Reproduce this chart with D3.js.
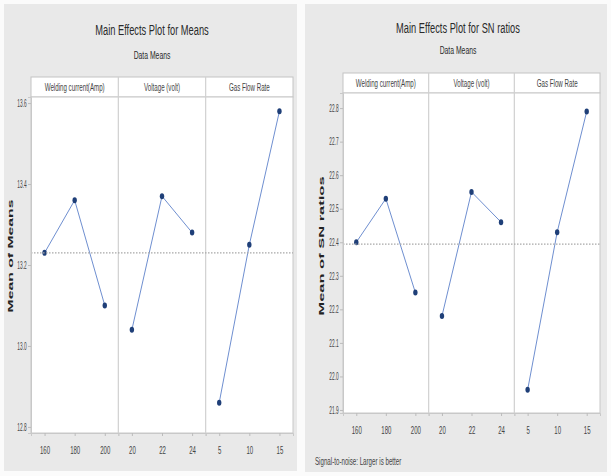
<!DOCTYPE html>
<html>
<head>
<meta charset="utf-8">
<script src="https://cdn.jsdelivr.net/npm/d3@7"></script>
<style>
  body { margin: 0; background: #fff; }
  svg { display: block; font-family: "Liberation Sans", Arial, sans-serif; }
</style>
</head>
<body>
<svg id="chart" width="611" height="476"></svg>
<script>
// factors and their levels
const factors = ["Welding current(Amp)", "Voltage (volt)", "Gas Flow Rate"];
const weldingLevels = ["160", "180", "200"];
const voltageLevels = ["20", "22", "24"];
const gasLevels = ["5", "10", "15"];

// Means
const meansWelding = [13.23, 13.36, 13.10];
const meansVoltage = [13.04, 13.37, 13.28];
const meansGas = [12.86, 13.25, 13.58];
const meansTicks = [12.8, 13.0, 13.2, 13.4, 13.6];

// SN ratios
const snWelding = [22.40, 22.53, 22.25];
const snVoltage = [22.18, 22.55, 22.46];
const snGas = [21.96, 22.43, 22.79];
const snTicks = [21.9, 22.0, 22.1, 22.2, 22.3, 22.4, 22.5, 22.6, 22.7, 22.8];

const svg = d3.select("#chart");
const SX = 0.62; // the picture's text is squeezed sideways

svg.append("rect").attr("width", 611).attr("height", 476).attr("fill", "#fbfbfb");

function squeezedText(g, x, y, str, size, opts = {}) {
  return g.append("text")
    .attr("transform", `translate(${x},${y}) scale(${opts.sx || SX},1)`)
    .attr("text-anchor", opts.anchor || "middle")
    .attr("font-size", size)
    .attr("font-weight", opts.weight || "normal")
    .attr("fill", opts.fill || "#444")
    .text(str);
}

function drawChart(c) {
  const g = svg.append("g");

  g.append("rect")
    .attr("x", c.box[0]).attr("y", c.box[1])
    .attr("width", c.box[2]).attr("height", c.box[3])
    .attr("fill", "#e9e9e9");

  squeezedText(g, c.cx, c.titleY, c.title, 15, { fill: "#2a2a2a" });
  squeezedText(g, c.cx, c.subY, "Data Means", 11, { fill: "#2a2a2a" });

  const x0 = c.left, x1 = c.right;
  const panelW = (x1 - x0) / 3;

  const y = d3.scaleLinear().domain(c.domain).range([c.bottom, c.top]);

  // header strip
  g.append("rect")
    .attr("x", x0).attr("y", c.headTop)
    .attr("width", x1 - x0).attr("height", c.top - c.headTop)
    .attr("fill", "#fff").attr("stroke", "#c4c4c4");

  // plot area
  g.append("rect")
    .attr("x", x0).attr("y", c.top)
    .attr("width", x1 - x0).attr("height", c.bottom - c.top)
    .attr("fill", "#fff").attr("stroke", "#c8c8c8");

  const grand = d3.mean(c.series.flat());

  c.series.forEach((vals, i) => {
    const px = x0 + i * panelW;
    const x = d3.scalePoint().domain(c.levels[i]).range([px, px + panelW]).padding(0.45);

    if (i > 0) {
      g.append("line")
        .attr("x1", px).attr("x2", px)
        .attr("y1", c.headTop).attr("y2", c.bottom)
        .attr("stroke", "#d0d0d0").attr("stroke-width", 1.2);
    }

    squeezedText(g, px + panelW / 2, c.headTop + (c.top - c.headTop) / 2 + 3.5, factors[i], 10, { fill: "#444" });

    const ax = g.append("g")
      .attr("transform", `translate(0,${c.bottom})`)
      .call(d3.axisBottom(x).tickSize(3).tickPadding(c.xPad));
    ax.select(".domain").attr("stroke", "#c8c8c8");
    ax.selectAll(".tick line").attr("stroke", "#bbb");
    ax.selectAll(".tick text")
      .attr("font-size", 11).attr("fill", "#444")
      .attr("transform", `scale(0.55,1)`);

    const pts = vals.map((v, j) => ({ lv: c.levels[i][j], v }));

    g.append("path")
      .datum(pts)
      .attr("fill", "none")
      .attr("stroke", "#6f8fd0")
      .attr("stroke-width", 1)
      .attr("d", d3.line().x(d => x(d.lv)).y(d => y(d.v)));

    g.selectAll(null)
      .data(pts)
      .enter()
      .append("ellipse")
      .attr("cx", d => x(d.lv))
      .attr("cy", d => y(d.v))
      .attr("rx", 2.2).attr("ry", 3)
      .attr("fill", "#1f3f78");
  });

  // grand mean reference line
  g.append("line")
    .attr("x1", x0).attr("x2", x1)
    .attr("y1", y(grand)).attr("y2", y(grand))
    .attr("stroke", "#a8a8a8")
    .attr("stroke-width", 1.2)
    .attr("stroke-dasharray", "1.5,1.5");

  const ay = g.append("g")
    .attr("transform", `translate(${x0},0)`)
    .call(d3.axisLeft(y).tickValues(c.ticks).tickSize(3).tickPadding(3).tickFormat(d3.format(".1f")));
  ay.select(".domain").attr("stroke", "#c8c8c8");
  ay.selectAll(".tick line").attr("stroke", "#bbb");
  ay.selectAll(".tick text")
    .attr("font-size", 10).attr("fill", "#444")
    .attr("text-anchor", "middle")
    .attr("transform", `scale(0.48,1)`)
    .attr("x", -c.yLabOff / 0.48);

  g.append("text")
    .attr("transform", `translate(${c.yTitleX},${c.yTitleY}) rotate(-90) scale(${c.yTitleLen},0.5)`)
    .attr("text-anchor", "middle")
    .attr("dy", "0.35em")
    .attr("font-size", 15)
    .attr("font-weight", "bold")
    .attr("fill", "#222")
    .text(c.yTitle);

  if (c.note) {
    squeezedText(g, c.note[0], c.note[1], c.note[2], 10, { anchor: "start", fill: "#444" });
  }
}

drawChart({
  box: [4, 4, 293, 467],
  cx: 152, titleY: 35, subY: 59,
  title: "Main Effects Plot for Means",
  left: 31, right: 293, headTop: 77, top: 97, bottom: 433,
  domain: [12.785, 13.615],
  ticks: meansTicks,
  levels: [weldingLevels, voltageLevels, gasLevels],
  series: [meansWelding, meansVoltage, meansGas],
  xPad: 10, yLabOff: 9,
  yTitle: "Mean of Means", yTitleX: 10, yTitleY: 256, yTitleLen: 1.05
});

drawChart({
  box: [305, 4, 302, 468],
  cx: 458, titleY: 33, subY: 54,
  title: "Main Effects Plot for SN ratios",
  left: 343, right: 600, headTop: 73, top: 93, bottom: 413,
  domain: [21.891, 22.845],
  ticks: snTicks,
  levels: [weldingLevels, voltageLevels, gasLevels],
  series: [snWelding, snVoltage, snGas],
  xPad: 10, yLabOff: 9,
  yTitle: "Mean of SN ratios", yTitleX: 321, yTitleY: 246, yTitleLen: 1.1,
  note: [315, 465, "Signal-to-noise: Larger is better"]
});
</script>
</body>
</html>
